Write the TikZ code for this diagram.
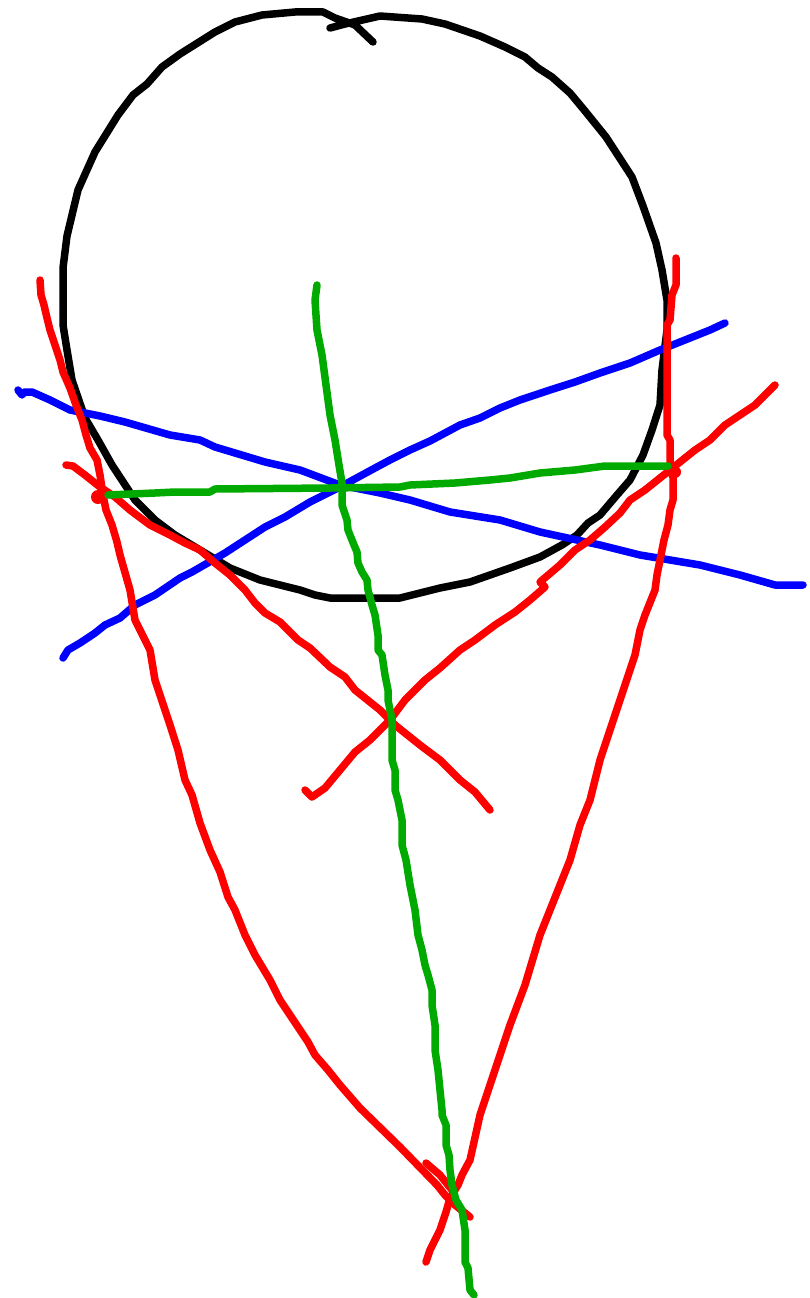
\documentclass[tikz,border=0pt]{standalone}
\definecolor{sred}{RGB}{255,0,0}
\definecolor{sblue}{RGB}{0,0,255}
\definecolor{sgreen}{RGB}{0,170,0}
\begin{document}
\begin{tikzpicture}[x=1pt,y=-1pt,
  stroke/.style={line width=7.5pt,line cap=round,line join=round},
  blackline/.style={stroke,draw=black},
  redline/.style={stroke,draw=sred},
  blueline/.style={stroke,draw=sblue},
  greenline/.style={stroke,draw=sgreen}]
\useasboundingbox (0,0) rectangle (809,1298);
% circle
\draw[blackline] (330,28) -- (345,24) -- (380,16) -- (422,19) -- (445,24) -- (480,36) -- (505,47) -- (525,57) -- (538,68) -- (552,77) -- (570,93) -- (585,111) -- (606,137) -- (632,177) -- (643,206) -- (656,243) -- (662,270) -- (667,300) -- (667,330) -- (662,370) -- (660,405) -- (652,430) -- (643,455) -- (630,480) -- (617,495) -- (600,515) -- (588,523) -- (577,535) -- (562,545) -- (540,557) -- (510,568) -- (490,575) -- (470,582) -- (440,588) -- (400,598) -- (330,598) -- (315,595) -- (300,590) -- (260,580) -- (230,568) -- (175,535) -- (155,520) -- (135,500) -- (112,465) -- (98,440) -- (85,418) -- (72,380) -- (67,350) -- (63,325) -- (63,268) -- (67,236) -- (78,190) -- (95,152) -- (118,115) -- (133,95) -- (147,84) -- (162,67) -- (180,54) -- (215,32) -- (235,22) -- (262,15) -- (295,12) -- (323,12) -- (335,18) -- (355,25) -- (373,42);
% blue lines
\draw[blueline] (18,390) -- (22,395) -- (24,392) -- (32,392) -- (50,400) -- (70,410) -- (100,416) -- (125,422) -- (170,435) -- (200,440) -- (215,447) -- (265,462) -- (300,470) -- (340,485) -- (380,493) -- (410,500) -- (450,512) -- (500,520) -- (540,532) -- (600,545) -- (640,555) -- (700,565) -- (740,575) -- (775,585) -- (803,585);
\draw[blueline] (63,658) -- (68,650) -- (80,643) -- (95,633) -- (105,625) -- (120,618) -- (135,605) -- (155,595) -- (180,578) -- (192,572) -- (225,553) -- (245,540) -- (265,527) -- (285,517) -- (310,502) -- (340,487) -- (375,468) -- (390,460) -- (410,450) -- (430,441) -- (460,425) -- (480,418) -- (500,408) -- (520,400) -- (550,390) -- (575,382) -- (600,373) -- (630,363) -- (660,350) -- (690,338) -- (710,330) -- (725,323);
% red lines
\draw[redline] (40,280) -- (41,295) -- (44,305) -- (47,318) -- (50,330) -- (55,345) -- (60,360) -- (63,372) -- (70,388) -- (76,405) -- (82,420) -- (86,435) -- (90,448) -- (97,460) -- (100,475) -- (103,495) -- (106,510) -- (112,525) -- (117,542) -- (120,555) -- (130,590) -- (135,620) -- (150,650) -- (155,680) -- (170,725) -- (178,750) -- (185,780) -- (192,795) -- (200,823) -- (210,850) -- (220,872) -- (228,897) -- (235,910) -- (245,935) -- (255,955) -- (270,980) -- (280,1000) -- (290,1015) -- (300,1030) -- (308,1042) -- (315,1055) -- (328,1070) -- (340,1085) -- (360,1108) -- (400,1147) -- (437,1185) -- (445,1195) -- (455,1205) -- (470,1217);
\draw[redline] (676,258) -- (676,285) -- (672,295) -- (670,320) -- (667,325) -- (667,435) -- (670,440) -- (670,470) -- (673,477) -- (673,500) -- (670,510) -- (668,525) -- (664,540) -- (660,560) -- (657,575) -- (655,590) -- (645,615) -- (640,630) -- (635,655) -- (620,700) -- (605,745) -- (600,760) -- (590,800) -- (580,825) -- (570,860) -- (560,885) -- (540,935) -- (525,985) -- (510,1025) -- (495,1070) -- (480,1115) -- (470,1160) -- (462,1175) -- (458,1185) -- (450,1198) -- (446,1212) -- (440,1230) -- (430,1250) -- (426,1262);
\draw[redline] (426,1163) -- (440,1175) -- (452,1190);
\draw[redline] (66,465) -- (73,466) -- (85,475) -- (100,487) -- (115,497) -- (130,510) -- (150,525) -- (170,535) -- (185,543) -- (200,550) -- (215,563) -- (230,575) -- (245,590) -- (255,603) -- (265,613) -- (280,622) -- (298,640) -- (310,648) -- (330,667) -- (345,677) -- (355,690) -- (380,710) -- (395,725) -- (420,745) -- (440,760) -- (460,780) -- (475,792) -- (490,810);
\draw[redline] (305,790) -- (312,797) -- (325,788) -- (340,770) -- (355,752) -- (370,740) -- (390,720) -- (405,700) -- (425,680) -- (440,668) -- (460,650) -- (475,640) -- (495,625) -- (515,612) -- (530,600) -- (545,587) -- (540,582) -- (560,565) -- (575,550) -- (590,540) -- (605,527) -- (620,513) -- (630,500) -- (645,490) -- (660,478) -- (670,470) -- (680,462) -- (695,450) -- (710,440) -- (725,425) -- (740,415) -- (755,405) -- (765,395) -- (775,385);
% small scribbles
\fill[sred] (98,497) circle (7pt);
\fill[sred] (675,472) circle (6pt);
% green lines
\draw[greenline] (108,495) -- (155,493) -- (175,492) -- (210,492) -- (215,489) -- (330,488) -- (400,487) -- (410,485) -- (455,483) -- (490,480) -- (510,478) -- (540,473) -- (575,470) -- (605,466) -- (668,466);
\draw[greenline] (317,285) -- (315,300) -- (317,330) -- (322,355) -- (326,385) -- (330,415) -- (335,440) -- (339,465) -- (342,483) -- (342,505) -- (347,520) -- (348,530) -- (354,545) -- (357,552) -- (358,563) -- (362,572) -- (367,580) -- (368,590) -- (372,605) -- (375,615) -- (378,635) -- (378,650) -- (382,655) -- (385,675) -- (388,690) -- (388,700) -- (392,720) -- (392,760) -- (395,770) -- (395,790) -- (398,800) -- (402,820) -- (402,845) -- (406,860) -- (410,885) -- (415,910) -- (418,935) -- (422,950) -- (425,965) -- (428,975) -- (432,990) -- (432,1005) -- (435,1025) -- (435,1050) -- (438,1070) -- (440,1090) -- (442,1110) -- (442,1115) -- (446,1125) -- (446,1145) -- (449,1155) -- (450,1170) -- (452,1185) -- (456,1200) -- (462,1210) -- (465,1230) -- (465,1262) -- (468,1268) -- (470,1290) -- (474,1295);
\end{tikzpicture}
\end{document}
